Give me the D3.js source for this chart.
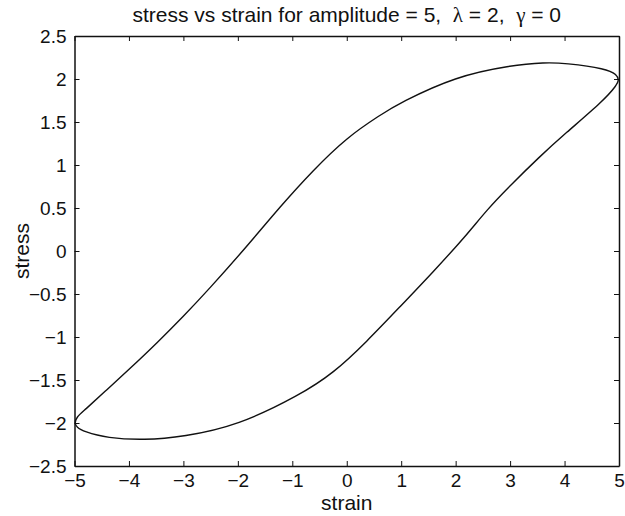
<!DOCTYPE html>
<html>
<head>
<meta charset="utf-8">
<script src="https://cdn.jsdelivr.net/npm/d3@7"></script>
<style>
  body { margin: 0; background: #fff; }
  text { font-family: "Liberation Sans", Arial, sans-serif; fill: #111; white-space: pre; }
</style>
</head>
<body>
<div id="graphic"></div>
<script>
// loop: lower branch left tip -> right tip
const lowerStrain = [-5.0, -4.96, -4.83, -4.4, -3.72, -3.0, -2.0, -0.859, -0.247, 0.366, 0.978, 1.59, 2.203, 2.57, 3.0, 3.53, 4.0, 4.72, 4.96];
const lowerStress = [-2.0, -2.05, -2.10, -2.175, -2.20, -2.16, -2.03, -1.674, -1.422, -1.055, -0.648, -0.241, 0.186, 0.477, 0.76, 1.09, 1.36, 1.75, 1.93];
// upper branch right tip -> left tip
const upperStrain = [5.0, 4.96, 4.77, 4.0, 3.65, 3.0, 2.0, 0.978, 0.611, 0.0, -0.614, -1.226, -1.838, -2.543, -3.0, -3.47, -4.0, -4.4, -4.83, -4.96];
const upperStress = [1.99, 2.05, 2.12, 2.185, 2.193, 2.158, 2.03, 1.724, 1.58, 1.32, 0.942, 0.515, 0.05, -0.453, -0.76, -1.06, -1.378, -1.61, -1.86, -1.93];

const xTicks = [-5, -4, -3, -2, -1, 0, 1, 2, 3, 4, 5];
const yTicks = [-2.5, -2, -1.5, -1, -0.5, 0, 0.5, 1, 1.5, 2, 2.5];

const width = 625, height = 516;
const margin = {top: 36, right: 6, bottom: 50, left: 74.5};
const plotWidth = width - margin.left - margin.right;
const plotHeight = height - margin.top - margin.bottom;

const svg = d3.select("#graphic")
              .append("svg")
              .attr("width", width)
              .attr("height", height);

const x = d3.scaleLinear().domain([-5, 5]).range([0, plotWidth]);
const y = d3.scaleLinear().domain([-2.5, 2.5]).range([plotHeight, 0]);

const g = svg.append("g")
             .attr("transform", "translate(" + margin.left + "," + margin.top + ")");

// build loop data
let loopData = [];
lowerStrain.forEach((s, i) => loopData.push({x: s, y: lowerStress[i]}));
upperStrain.forEach((s, i) => loopData.push({x: s, y: upperStress[i]}));

// axes, matlab style box with inward ticks
const fmt = d => d < 0 ? "\u2212" + Math.abs(d) : String(d);

g.append("g")
 .attr("transform", "translate(0," + plotHeight + ")")
 .call(d3.axisBottom(x).tickValues(xTicks).tickFormat(fmt).tickSizeInner(-5).tickSizeOuter(0).tickPadding(8));
g.append("g")
 .call(d3.axisTop(x).tickValues(xTicks).tickFormat("").tickSizeInner(-5).tickSizeOuter(0));
g.append("g")
 .call(d3.axisLeft(y).tickValues(yTicks).tickFormat(fmt).tickSizeInner(-5).tickSizeOuter(0).tickPadding(8));
g.append("g")
 .attr("transform", "translate(" + plotWidth + ",0)")
 .call(d3.axisRight(y).tickValues(yTicks).tickFormat("").tickSizeInner(-5).tickSizeOuter(0));

g.selectAll(".domain").attr("stroke", "#111").attr("stroke-width", 1.5);
g.selectAll(".tick line").attr("stroke", "#111").attr("stroke-width", 1);
g.selectAll(".tick text").attr("font-size", 19).attr("fill", "#111");

// the loop
g.append("path")
 .datum(loopData)
 .attr("fill", "none")
 .attr("stroke", "#111")
 .attr("stroke-width", 1.4)
 .attr("stroke-linejoin", "round")
 .attr("d", d3.line()
              .curve(d3.curveBasisClosed)
              .x(d => x(d.x))
              .y(d => y(d.y)));

// title with greek letters in a serif face
const title = svg.append("text")
   .attr("x", margin.left + plotWidth / 2)
   .attr("y", 22)
   .attr("text-anchor", "middle")
   .attr("font-size", 21);
title.append("tspan").text("stress vs strain for amplitude = 5,  ");
title.append("tspan").attr("font-family", "'Liberation Serif', serif").text("\u03bb");
title.append("tspan").text(" = 2,  ");
title.append("tspan").attr("font-family", "'Liberation Serif', serif").text("\u03b3");
title.append("tspan").text(" = 0");

svg.append("text")
   .attr("x", margin.left + plotWidth / 2)
   .attr("y", 510)
   .attr("text-anchor", "middle")
   .attr("font-size", 21)
   .text("strain");

svg.append("text")
   .attr("transform", "translate(29," + (margin.top + plotHeight / 2) + ") rotate(-90)")
   .attr("text-anchor", "middle")
   .attr("font-size", 21)
   .text("stress");
</script>
</body>
</html>
